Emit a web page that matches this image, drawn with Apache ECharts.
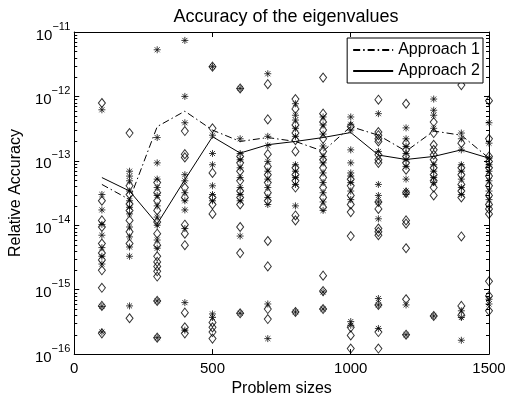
<!DOCTYPE html>
<html><head><meta charset="utf-8">
<script src="https://cdn.jsdelivr.net/npm/echarts@6/dist/echarts.min.js"></script>
<style>html,body{margin:0;padding:0;background:#fff}#c{width:509px;height:402px}</style>
</head><body><div id="c"></div>
<script>
const FONT = "'Liberation Sans', Arial, Helvetica, sans-serif";

const sizes = [100,200,300,400,500,600,700,800,900,1000,1100,1200,1300,1400,1500];
const approach1 = [4.3e-14,2.5e-14,3.4e-13,5.9e-13,3.0e-13,2.0e-13,2.3e-13,2.0e-13,1.41e-13,3.4e-13,2.5e-13,1.41e-13,2.9e-13,2.5e-13,1.1e-13];
const approach2 = [5.5e-14,3.4e-14,1.05e-14,5.1e-14,2.37e-13,1.32e-13,1.78e-13,2.0e-13,2.3e-13,2.75e-13,1.23e-13,1.05e-13,1.17e-13,1.48e-13,1.1e-13];

// '*' markers, one list per problem size
const starValues = [
  [6.2e-13,3.0e-14,1.73e-14,1.03e-14,7.0e-15,4.5e-15,3.3e-15,2.5e-15,5.5e-16,2.2e-16],
  [6.9e-14,5.8e-14,4.9e-14,3.4e-14,2.4e-14,1.9e-14,1.5e-14,9.4e-15,6.6e-15,4.6e-15,3.3e-15,5.6e-16],
  [5.3e-12,2.3e-13,9.3e-14,5.2e-14,3.85e-14,2.9e-14,2.0e-14,1.34e-14,1.0e-14,5.9e-15,4.4e-15,6.7e-16,1.8e-16],
  [7.4e-12,1.0e-12,3.9e-13,6.1e-14,4.9e-14,3.2e-14,2.4e-14,1.73e-14,8.9e-15,6.3e-16,2.35e-16],
  [2.9e-12,2.5e-13,1.3e-13,8.7e-14,4.1e-14,3.0e-14,2.4e-14,4.2e-16,3.7e-16],
  [1.33e-12,2.2e-13,1.3e-13,1.04e-13,7.8e-14,5.5e-14,3.85e-14,3.0e-14,2.4e-14,6.8e-15,4.3e-16],
  [2.25e-12,2.4e-13,1.73e-13,9.8e-14,6.9e-14,5.2e-14,3.85e-14,2.7e-14,2.1e-14,6.0e-16,1.74e-16],
  [7.7e-13,5.1e-13,4.3e-13,3.2e-13,2.4e-13,8.7e-14,6.9e-14,5.5e-14,4.3e-14,2.0e-14,4.5e-16],
  [4.8e-13,3.6e-13,2.6e-13,1.7e-13,1.17e-13,9.3e-14,6.5e-14,4.6e-14,3.2e-14,2.3e-14,1.7e-14,9.2e-16,5.0e-16],
  [4.8e-13,3.7e-13,3.0e-13,1.48e-13,9.3e-14,6.5e-14,5.8e-14,4.6e-14,3.4e-14,2.5e-14,3.2e-16,2.8e-16],
  [5.4e-13,1.4e-13,4.3e-14,2.9e-14,2.3e-14,1.26e-14,7.3e-16,5.8e-16,2.5e-16],
  [3.25e-13,2.2e-13,1.67e-13,1.3e-13,1.04e-13,8.2e-14,5.2e-14,3.4e-14,3.0e-14,5.8e-16,2.0e-16],
  [9.1e-13,6.1e-13,5.1e-13,3.2e-13,8.7e-14,6.9e-14,5.5e-14,4.6e-14,3.9e-16],
  [2.7e-13,2.2e-13,1.48e-13,8.7e-14,6.9e-14,5.2e-14,3.85e-14,3.0e-14,4.7e-16,3.7e-16,1.64e-16],
  [3.9e-13,1.88e-13,1.1e-13,8.7e-14,6.9e-14,4.9e-14,3.4e-14,2.5e-14,7.1e-16,6.0e-16]
];

// diamond markers, one list per problem size
const diamondValues = [
  [7.9e-13,2.4e-14,1.19e-14,9.4e-15,5.2e-15,3.7e-15,2.9e-15,2.0e-15,1.07e-15,5.6e-16,2.1e-16],
  [2.7e-13,4.1e-14,3.0e-14,2.14e-14,1.69e-14,1.19e-14,7.9e-15,5.2e-15,3.6e-16],
  [4.6e-14,3.2e-14,2.4e-14,1.7e-14,1.12e-14,7.4e-15,4.9e-15,3.3e-15,2.7e-15,2.3e-15,1.93e-15,1.6e-15,6.7e-16,1.8e-16],
  [2.9e-13,1.27e-13,1.13e-13,3.85e-14,2.7e-14,1.02e-14,7.4e-15,4.9e-15,4.4e-16,2.6e-16,2.1e-16],
  [2.9e-12,3.2e-13,6.5e-14,2.7e-14,2.1e-14,1.5e-14,3.1e-16,2.6e-16,2.2e-16,1.74e-16],
  [1.33e-12,1.17e-13,9.3e-14,6.9e-14,4.9e-14,3.4e-14,2.7e-14,2.1e-14,9.4e-15,3.7e-15,4.3e-16],
  [1.55e-12,4.4e-13,1.27e-13,8.2e-14,6.1e-14,4.6e-14,3.2e-14,2.4e-14,5.7e-15,2.3e-15,5.0e-16,3.5e-16],
  [9.1e-13,6.4e-13,3.6e-13,2.7e-13,2.1e-13,1.4e-13,7.8e-14,6.1e-14,4.9e-14,3.85e-14,1.42e-14,1.19e-14,4.5e-16],
  [1.96e-12,5.4e-13,4.0e-13,3.0e-13,2.2e-13,1.4e-13,1.04e-13,7.8e-14,5.5e-14,3.85e-14,2.7e-14,1.9e-14,1.65e-15,9.5e-16,5.0e-16],
  [3.4e-13,5.2e-14,4.1e-14,2.9e-14,2.1e-14,1.6e-14,6.8e-15,2.6e-16,1.95e-16,1.22e-16],
  [8.9e-13,2.8e-13,2.5e-13,2.2e-13,2.0e-13,1.24e-13,1.04e-13,9.3e-14,2.3e-14,1.79e-14,8.9e-15,7.9e-15,7.0e-15,5.8e-16,2.2e-16,1.22e-16],
  [7.7e-13,1.88e-13,1.48e-13,1.17e-13,9.3e-14,7.3e-14,3.2e-14,1.19e-14,1.06e-14,4.4e-15,7.1e-16,2.0e-16],
  [4.0e-13,2.7e-13,1.77e-13,1.48e-13,1.24e-13,1.04e-13,7.8e-14,6.1e-14,4.9e-14,3.85e-14,2.9e-14,3.9e-16],
  [1.5e-12,1.88e-13,7.8e-14,6.1e-14,4.3e-14,3.4e-14,2.7e-14,6.7e-15,5.6e-16,4.0e-16],
  [8.6e-13,2.2e-13,1.17e-13,9.8e-14,7.8e-14,5.8e-14,4.1e-14,2.9e-14,2.1e-14,1.79e-14,1.5e-14,1.35e-15,8.0e-16,4.7e-16]
];

const xTickValues = [0, 500, 1000, 1500];
const yMin = 1e-16, yMax = 1e-11;

// minor log ticks (2..9 x 10^n) for the axis box decoration
const minorTicks = [];
for (let e = -16; e < -11; e++) for (let k = 2; k <= 9; k++) minorTicks.push(k * Math.pow(10, e));

function toPoints(lists) {
  const out = [];
  lists.forEach((vals, i) => vals.forEach(v => out.push([sizes[i], v])));
  return out;
}

const STAR = 'path://M0,-1L0,1M-1,0L1,0M-0.72,-0.72L0.72,0.72M-0.72,0.72L0.72,-0.72';

const axisLine = {show: true, onZero: false, lineStyle: {color: '#000', width: 1}};
const tickIn = {show: true, inside: true, length: 5, lineStyle: {color: '#000', width: 1}};

const chart = echarts.init(document.getElementById('c'), null, {renderer: 'canvas'});
chart.setOption({
  animation: false,
  backgroundColor: '#fff',
  color: ['#000'],
  title: {
    text: 'Accuracy of the eigenvalues', left: 281, textAlign: 'center', top: 3,
    textStyle: {fontSize: 18, fontWeight: 'normal', color: '#000', fontFamily: FONT}
  },
  legend: {
    data: ['Approach 1', 'Approach 2'], orient: 'vertical', right: 26, top: 38,
    itemWidth: 40, itemHeight: 14, itemGap: 3, padding: [3, 3, 3, 5],
    borderColor: '#000', borderWidth: 1, backgroundColor: '#fff', borderRadius: 0,
    itemStyle: {opacity: 0},
    textStyle: {fontSize: 16, color: '#000', fontFamily: FONT, lineHeight: 18}
  },
  grid: {left: 73, right: 20, top: 32, bottom: 43, containLabel: false},
  xAxis: [
    {type: 'value', min: 0, max: 1500, interval: 500, position: 'bottom',
     axisLine, axisTick: tickIn, splitLine: {show: false},
     axisLabel: {color: '#000', fontSize: 15, margin: 7, fontFamily: FONT,
                 formatter: v => String(v)},
     name: 'Problem sizes', nameLocation: 'middle', nameGap: 24,
     nameTextStyle: {fontSize: 16, color: '#000', fontFamily: FONT}},
    {type: 'value', min: 0, max: 1500, interval: 500, position: 'top',
     axisLine, axisTick: tickIn, splitLine: {show: false}, axisLabel: {show: false}}
  ],
  yAxis: [
    {type: 'log', logBase: 10, min: yMin, max: yMax, position: 'left',
     axisLine, axisTick: tickIn, splitLine: {show: false}, minorTick: {show: false},
     axisLabel: {
       margin: 4, fontFamily: FONT, color: '#000',
       formatter: v => '{b|10}{e|\u2212' + Math.abs(Math.round(Math.log10(v))) + '}',
       rich: {
         b: {fontSize: 15, lineHeight: 22, verticalAlign: 'bottom', fontFamily: FONT, color: '#000'},
         e: {fontSize: 11, lineHeight: 22, verticalAlign: 'top', fontFamily: FONT, color: '#000'}
       }
     },
     name: 'Relative Accuracy', nameLocation: 'middle', nameGap: 47,
     nameTextStyle: {fontSize: 16, color: '#000', fontFamily: FONT}},
    {type: 'log', logBase: 10, min: yMin, max: yMax, position: 'right',
     axisLine, axisTick: tickIn, splitLine: {show: false}, axisLabel: {show: false}}
  ],
  series: [
    {type: 'custom', silent: true, z: 5, xAxisIndex: 0, yAxisIndex: 0,
     data: minorTicks.map(v => [0, v]),
     renderItem: (params, api) => {
       const cs = params.coordSys;
       const y = Math.round(api.coord([0, api.value(1)])[1]) + 0.5;
       return {type: 'group', children: [
         {type: 'line', shape: {x1: cs.x, y1: y, x2: cs.x + 3, y2: y}, style: {stroke: '#000', lineWidth: 1}},
         {type: 'line', shape: {x1: cs.x + cs.width - 3, y1: y, x2: cs.x + cs.width, y2: y}, style: {stroke: '#000', lineWidth: 1}}
       ]};
     }},
    {name: 'stars', type: 'scatter', symbol: STAR, symbolSize: 7, clip: false,
     data: toPoints(starValues),
     itemStyle: {color: 'transparent', borderColor: '#111', borderWidth: 1}},
    {name: 'diamonds', type: 'scatter', symbol: 'diamond', symbolSize: [7, 9], clip: false,
     data: toPoints(diamondValues),
     itemStyle: {color: 'transparent', borderColor: '#000', borderWidth: 1}},
    {name: 'Approach 1', type: 'line', symbol: 'none', z: 10,
     data: sizes.map((s, i) => [s, approach1[i]]),
     itemStyle: {color: '#000'},
     lineStyle: {color: '#000', width: 1, type: [7, 3, 1.5, 3]}},
    {name: 'Approach 2', type: 'line', symbol: 'none', z: 10,
     data: sizes.map((s, i) => [s, approach2[i]]),
     itemStyle: {color: '#000'},
     lineStyle: {color: '#000', width: 1, type: 'solid'}}
  ]
});
</script>
</body></html>
